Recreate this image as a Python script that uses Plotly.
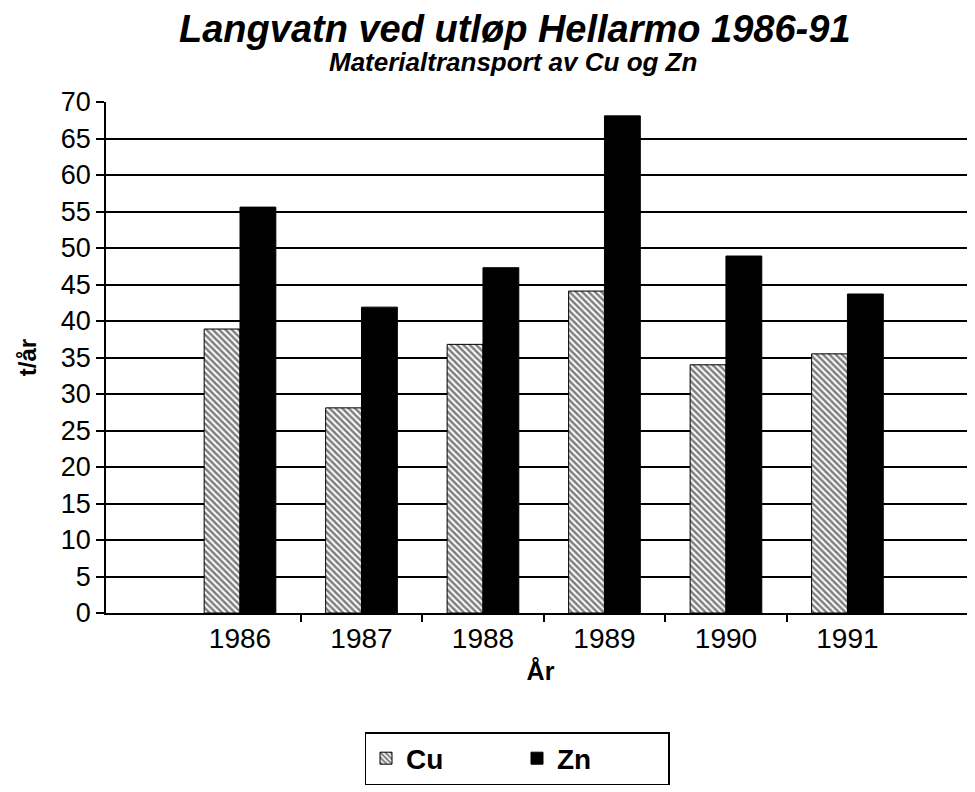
import plotly.graph_objects as go

years = ["1986", "1987", "1988", "1989", "1990", "1991"]
cu = [38.9, 28.1, 36.8, 44.1, 34.0, 35.5]
zn = [55.6, 41.9, 47.3, 68.1, 48.9, 43.7]
yticks = list(range(0, 75, 5))

xpos = list(range(len(years)))
FONT = "Liberation Sans, Arial, sans-serif"

ML, MT, MB, MR = 98, 94, 187, 8
PW, PH = 975 - ML - MR, 792 - MT - MB

fig = go.Figure()
fig.add_trace(go.Bar(
    x=xpos, y=cu, name="<b>Cu</b>",
    marker=dict(color="white", line=dict(color="black", width=1),
                pattern=dict(shape="\\", fgcolor="black", bgcolor="white",
                             size=4.5, solidity=0.55)),
))
fig.add_trace(go.Bar(
    x=xpos, y=zn, name="<b>Zn</b>",
    marker=dict(color="black", line=dict(color="black", width=1)),
))

fig.update_layout(
    width=975, height=792,
    paper_bgcolor="white", plot_bgcolor="white",
    margin=dict(l=ML, r=MR, t=MT, b=MB, autoexpand=False),
    barmode="group", bargap=0.41, bargroupgap=0,
    font=dict(family=FONT, color="black", size=26),
    legend=dict(
        orientation="h", x=(509 - ML) / PW, xanchor="center",
        y=-(724 - (MT + PH)) / PH, yanchor="top",
        bordercolor="black", borderwidth=1.5, bgcolor="white",
        font=dict(size=28, family=FONT),
        itemwidth=30, entrywidth=106,
    ),
    showlegend=True,
)

fig.add_annotation(
    text="<b><i>Langvatn ved utløp Hellarmo 1986-91</i></b>",
    xref="paper", yref="paper", x=(507 - ML) / PW, y=1 + (MT - 21) / PH,
    xanchor="center", yanchor="middle", showarrow=False,
    font=dict(size=38, family=FONT),
)
fig.add_annotation(
    text="<b><i>Materialtransport av Cu og Zn</i></b>",
    xref="paper", yref="paper", x=(505 - ML) / PW, y=1 + (MT - 54) / PH,
    xanchor="center", yanchor="middle", showarrow=False,
    font=dict(size=26, family=FONT),
)

fig.update_xaxes(
    range=[-1.103, 6.05], automargin=False,
    tickmode="array", tickvals=xpos, ticktext=years,
    ticks="", showgrid=False,
    showline=True, linecolor="black", linewidth=1.5,
    tickfont=dict(size=28),
    minor=dict(tickmode="array", tickvals=[0.5, 1.5, 2.5, 3.5, 4.5],
               ticks="outside", ticklen=7, tickwidth=1.5, tickcolor="black",
               showgrid=False),
    title=dict(text="<b>År</b>", font=dict(size=25), standoff=9),
    zeroline=False,
)
fig.update_yaxes(
    range=[0, 70], tickmode="array", tickvals=yticks, automargin=False,
    ticks="outside", ticklen=8, tickwidth=1.5, tickcolor="black",
    showgrid=True, gridcolor="black", gridwidth=1.5,
    showline=True, linecolor="black", linewidth=1.5,
    tickfont=dict(size=27),
    title=dict(text="<b>t/år</b>", font=dict(size=24), standoff=17),
    zeroline=False,
)

fig.write_html("out.html")
